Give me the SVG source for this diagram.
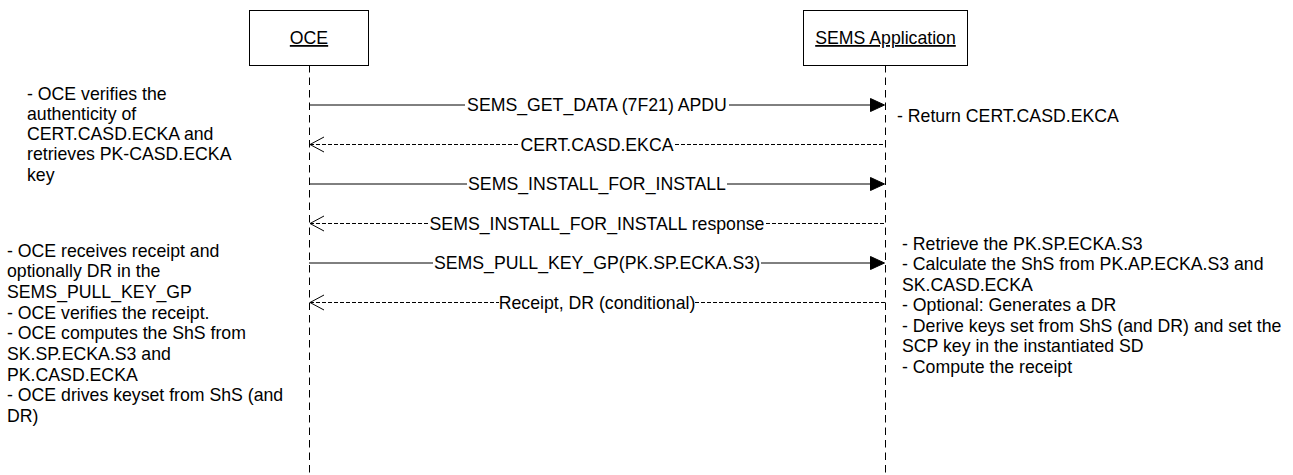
<svg xmlns="http://www.w3.org/2000/svg" width="1293" height="475" viewBox="0 0 1293 475">
<defs>
<style>
text{font-family:"Liberation Sans",Arial,sans-serif;font-size:17.7px;fill:#000}
.lbl{text-anchor:middle}
.box{fill:#fff;stroke:#000;stroke-width:1}
.life{stroke:#000;stroke-width:1;stroke-dasharray:7.5 5;fill:none}
.sync{stroke:#000;stroke-width:1;fill:none}
.ret{stroke:#000;stroke-width:1;stroke-dasharray:4 2;fill:none}
.head{fill:#000;stroke:#000;stroke-width:1}
.open{fill:none;stroke:#000;stroke-width:1}
</style>
</defs>
<rect width="1293" height="475" fill="#fff"/>
<g id="oce">
<line class="life" x1="309.5" y1="65" x2="309.5" y2="475"/>
<rect class="box" x="249.5" y="10.5" width="119" height="55"/>
<text x="309" y="44" text-anchor="middle" text-decoration="underline">OCE</text>
</g>
<g id="sems">
<line class="life" x1="885.5" y1="65" x2="885.5" y2="475"/>
<rect class="box" x="803.5" y="10.5" width="164" height="55"/>
<text x="885.5" y="44" text-anchor="middle" text-decoration="underline">SEMS Application</text>
</g>
<g id="connectors">
<line class="sync" x1="309" y1="105" x2="465" y2="105"/>
<line class="sync" x1="729" y1="105" x2="871" y2="105"/>
<polygon class="head" points="884.5,105 870.5,98.5 870.5,111.5"/>
<text class="lbl" x="597" y="111.3">SEMS_GET_DATA (7F21) APDU</text>

<line class="ret" x1="310" y1="144.5" x2="519" y2="144.5"/>
<line class="ret" x1="675" y1="144.5" x2="885" y2="144.5"/>
<polyline class="open" points="324,137 310,144.5 324,152"/>
<text class="lbl" x="597" y="150.8">CERT.CASD.EKCA</text>

<line class="sync" x1="309" y1="184" x2="467" y2="184"/>
<line class="sync" x1="727" y1="184" x2="871" y2="184"/>
<polygon class="head" points="884.5,184 870.5,177.5 870.5,190.5"/>
<text class="lbl" x="597" y="190.3">SEMS_INSTALL_FOR_INSTALL</text>

<line class="ret" x1="310" y1="223.5" x2="428" y2="223.5"/>
<line class="ret" x1="766" y1="223.5" x2="885" y2="223.5"/>
<polyline class="open" points="324,216 310,223.5 324,231"/>
<text class="lbl" x="597" y="229.8">SEMS_INSTALL_FOR_INSTALL response</text>

<line class="sync" x1="309" y1="263" x2="433" y2="263"/>
<line class="sync" x1="761" y1="263" x2="871" y2="263"/>
<polygon class="head" points="884.5,263 870.5,256.5 870.5,269.5"/>
<text class="lbl" x="597" y="269.3">SEMS_PULL_KEY_GP(PK.SP.ECKA.S3)</text>

<line class="ret" x1="310" y1="302.5" x2="499" y2="302.5"/>
<line class="ret" x1="695" y1="302.5" x2="885" y2="302.5"/>
<polyline class="open" points="324,295 310,302.5 324,310"/>
<text class="lbl" x="597" y="308.8">Receipt, DR (conditional)</text>
</g>
<g id="note-oce-1">
<text x="27" y="99.5">- OCE verifies the</text>
<text x="27" y="119.8">authenticity of</text>
<text x="27" y="140.1">CERT.CASD.ECKA and</text>
<text x="27" y="160.4">retrieves PK-CASD.ECKA</text>
<text x="27" y="180.7">key</text>
</g>
<g id="note-oce-2">
<text x="7" y="256.5">- OCE receives receipt and</text>
<text x="7" y="277.2">optionally DR in the</text>
<text x="7" y="297.9">SEMS_PULL_KEY_GP</text>
<text x="7" y="318.6">- OCE verifies the receipt.</text>
<text x="7" y="339.3">- OCE computes the ShS from</text>
<text x="7" y="360">SK.SP.ECKA.S3 and</text>
<text x="7" y="380.7">PK.CASD.ECKA</text>
<text x="7" y="401.4">- OCE drives keyset from ShS (and</text>
<text x="7" y="422.1">DR)</text>
</g>
<g id="note-sems-1">
<text x="897" y="122">- Return CERT.CASD.EKCA</text>
</g>
<g id="note-sems-2">
<text x="902" y="249.5">- Retrieve the PK.SP.ECKA.S3</text>
<text x="902" y="270">- Calculate the ShS from PK.AP.ECKA.S3 and</text>
<text x="902" y="290.5">SK.CASD.ECKA</text>
<text x="902" y="311">- Optional: Generates a DR</text>
<text x="902" y="331.5">- Derive keys set from ShS (and DR) and set the</text>
<text x="902" y="352">SCP key in the instantiated SD</text>
<text x="902" y="372.5">- Compute the receipt</text>
</g>
</svg>
